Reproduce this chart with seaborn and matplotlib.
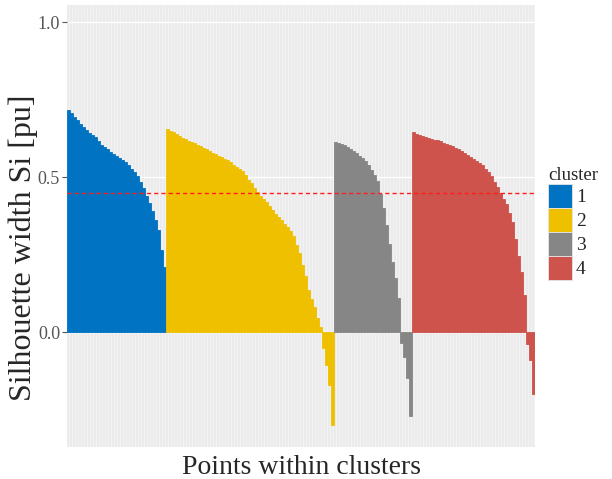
import matplotlib
matplotlib.use("Agg")
import matplotlib.pyplot as plt
from matplotlib.patches import Patch
import seaborn as sns
import pandas as pd

# ---- data ----
clusters = ["1", "2", "3", "4"]
colors = ["#0073C2", "#EFC000", "#868686", "#CD534C"]

sil_c1 = [0.715, 0.705, 0.695, 0.685, 0.672, 0.662, 0.652, 0.643, 0.636, 0.628,
          0.615, 0.604, 0.597, 0.589, 0.582, 0.575, 0.568, 0.562, 0.555, 0.548,
          0.540, 0.527, 0.516, 0.503, 0.485, 0.466, 0.440, 0.415, 0.390, 0.360,
          0.330, 0.265, 0.210]
sil_c2 = [0.655, 0.650, 0.644, 0.638, 0.632, 0.627, 0.622, 0.617, 0.613, 0.609,
          0.604, 0.599, 0.594, 0.589, 0.584, 0.578, 0.573, 0.568, 0.563, 0.559,
          0.555, 0.548, 0.540, 0.533, 0.526, 0.518, 0.506, 0.492, 0.480, 0.466,
          0.451, 0.440, 0.430, 0.420, 0.408, 0.395, 0.382, 0.370, 0.360, 0.350,
          0.340, 0.325, 0.310, 0.280, 0.255, 0.215, 0.180, 0.135, 0.105, 0.080,
          0.045, 0.015, -0.050, -0.105, -0.170, -0.300]
sil_c3 = [0.613, 0.611, 0.607, 0.603, 0.597, 0.590, 0.584, 0.577, 0.569, 0.561,
          0.552, 0.538, 0.522, 0.505, 0.487, 0.445, 0.400, 0.345, 0.285, 0.225,
          0.175, 0.110, -0.036, -0.080, -0.150, -0.270]
sil_c4 = [0.645, 0.640, 0.635, 0.631, 0.628, 0.626, 0.623, 0.621, 0.619, 0.615,
          0.611, 0.607, 0.603, 0.599, 0.595, 0.589, 0.583, 0.577, 0.572, 0.566,
          0.558, 0.552, 0.545, 0.538, 0.526, 0.515, 0.502, 0.485, 0.468, 0.450,
          0.430, 0.412, 0.385, 0.355, 0.300, 0.245, 0.195, 0.120, -0.040, -0.090,
          -0.200]
avg_width = 0.448

y_ticks = [0.0, 0.5, 1.0]
y_tick_labels = ["0.0", "0.5", "1.0"]

# ---- table ----
vals = sil_c1 + sil_c2 + sil_c3 + sil_c4
labs = (["1"] * len(sil_c1) + ["2"] * len(sil_c2) +
        ["3"] * len(sil_c3) + ["4"] * len(sil_c4))
df = pd.DataFrame({"point": range(len(vals)), "sil": vals, "cluster": labs})
n = len(df)

sns.set_theme(style="darkgrid")
plt.rcParams["font.family"] = ["Liberation Serif", "DejaVu Serif"]

fig = plt.figure(figsize=(6.12, 4.79), dpi=100)
ax = fig.add_axes([67 / 612, 1 - 447 / 479, (535 - 67) / 612, (447 - 5) / 479])
ax.set_facecolor("#EBEBEB")

sns.barplot(data=df, x="point", y="sil", hue="cluster",
            palette=dict(zip(clusters, colors)), hue_order=clusters,
            dodge=False, width=1.0, errorbar=None, saturation=1,
            legend=False, ax=ax)
for p in ax.patches:
    p.set_edgecolor(p.get_facecolor())
    p.set_linewidth(0.6)
    p.set_zorder(3)

ax.axhline(avg_width, color="#FF1E1E", ls=(0, (3, 2.2)), lw=1.0, zorder=5)

ax.set_xlim(-0.5, n - 0.5)
ax.set_ylim(-0.371, 1.055)
ax.set_yticks(y_ticks)
ax.set_yticklabels(y_tick_labels)
ax.set_xticks(range(n))
ax.tick_params(axis="x", length=0, labelbottom=False)
ax.tick_params(axis="y", length=3.5, width=0.8, color="#555555", left=True,
               labelsize=13, labelcolor="#555555", pad=1.5)
ax.set_axisbelow(True)
ax.grid(axis="y", color="white", lw=1.0, zorder=0.5)
ax.grid(axis="x", color="white", lw=0.5, alpha=0.55, zorder=0.5)
for s in ax.spines.values():
    s.set_visible(False)

ax.set_xlabel("Points within clusters", fontsize=20, labelpad=6)
ax.set_ylabel("Silhouette width Si [pu]", fontsize=23)
ax.yaxis.set_label_coords(-(67 - 23) / 468, (447 - 248) / 442)
ax.yaxis.label.set_verticalalignment("center")

handles = [Patch(facecolor=c, edgecolor="#E6E6E6", lw=0.6, label=l)
           for c, l in zip(colors, clusters)]
leg = fig.legend(handles=handles, title="cluster", loc="upper left",
                 bbox_to_anchor=(548 / 612, 1 - 167 / 479), frameon=False,
                 fontsize=14, title_fontsize=13.5, handlelength=1.235,
                 handleheight=1.52, labelspacing=0.0, handletextpad=0.2,
                 borderpad=0.0, borderaxespad=0.0, alignment="left")

fig.savefig("out.png", dpi=100)
